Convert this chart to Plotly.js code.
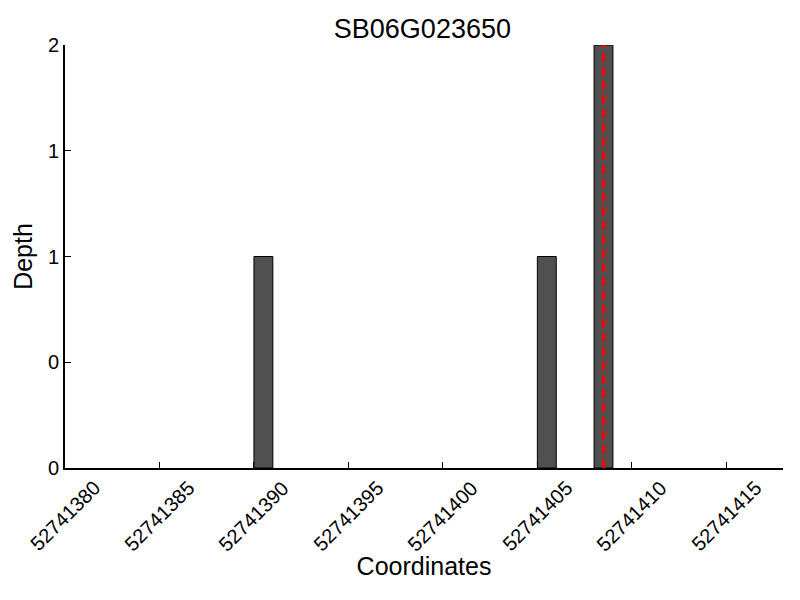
<!DOCTYPE html>
<html>
<head>
<meta charset="utf-8">
<script src="https://cdn.plot.ly/plotly-3.0.1.min.js"></script>
<style>html,body{margin:0;padding:0;background:#fff}#chart{width:800px;height:600px}</style>
</head>
<body>
<div id="chart"></div>
<script>
// Data
const positions = [52741390, 52741405, 52741408];
const depths = [1, 1, 2];
const snpPosition = 52741408.5;
const xTickVals = [52741380, 52741385, 52741390, 52741395, 52741400, 52741405, 52741410, 52741415];
const xTickText = ["52741380", "52741385", "52741390", "52741395", "52741400", "52741405", "52741410", "52741415"];
const yTickVals = [0, 0.5, 1, 1.5, 2];
const yTickText = ["0", "0", "1", "1", "2"];
const xRange = [52741380, 52741418];
const yRange = [0, 2];

const font = "Liberation Sans, Arial, sans-serif";

const traces = [
  {
    type: "bar",
    x: positions,
    y: depths,
    width: 1,
    offset: 0,
    marker: {color: "#505050", line: {color: "#000000", width: 1}},
    hoverinfo: "x+y"
  },
  {
    type: "scatter",
    mode: "lines",
    x: [snpPosition, snpPosition],
    y: yRange,
    line: {color: "#ff0000", width: 3, dash: "9px,5px"},
    hoverinfo: "skip"
  }
];

// centred, rotated x tick labels (matplotlib style)
const tickAnnotations = xTickVals.map((v, i) => ({
  x: v,
  xref: "x",
  y: 0,
  yref: "paper",
  text: xTickText[i],
  textangle: -45,
  showarrow: false,
  xanchor: "center",
  yanchor: "top",
  yshift: -6,
  font: {family: font, size: 20, color: "#000"}
}));

const layout = {
  width: 800,
  height: 600,
  showlegend: false,
  paper_bgcolor: "#ffffff",
  plot_bgcolor: "#ffffff",
  margin: {l: 65, r: 17, t: 45, b: 132},
  title: {text: "SB06G023650", font: {family: font, size: 27, color: "#000"}, x: 0.528, xanchor: "center", y: 0.952, yanchor: "middle"},
  annotations: tickAnnotations,
  xaxis: {
    range: xRange,
    tickvals: xTickVals,
    showticklabels: false,
    ticks: "inside",
    ticklen: 6,
    tickwidth: 1,
    tickcolor: "#000",
    showline: true,
    linecolor: "#000",
    linewidth: 2,
    showgrid: false,
    zeroline: false,
    automargin: true,
    title: {text: "Coordinates", font: {family: font, size: 25, color: "#000"}, standoff: 88}
  },
  yaxis: {
    range: yRange,
    tickvals: yTickVals,
    ticktext: yTickText,
    ticks: "inside",
    ticklen: 6,
    tickwidth: 1,
    tickcolor: "#000",
    showline: true,
    linecolor: "#000",
    linewidth: 2,
    showgrid: false,
    zeroline: false,
    automargin: true,
    tickfont: {family: font, size: 20, color: "#000"},
    title: {text: "Depth", font: {family: font, size: 25, color: "#000"}, standoff: 8}
  }
};

Plotly.newPlot("chart", traces, layout, {displayModeBar: false, staticPlot: true});
</script>
</body>
</html>
